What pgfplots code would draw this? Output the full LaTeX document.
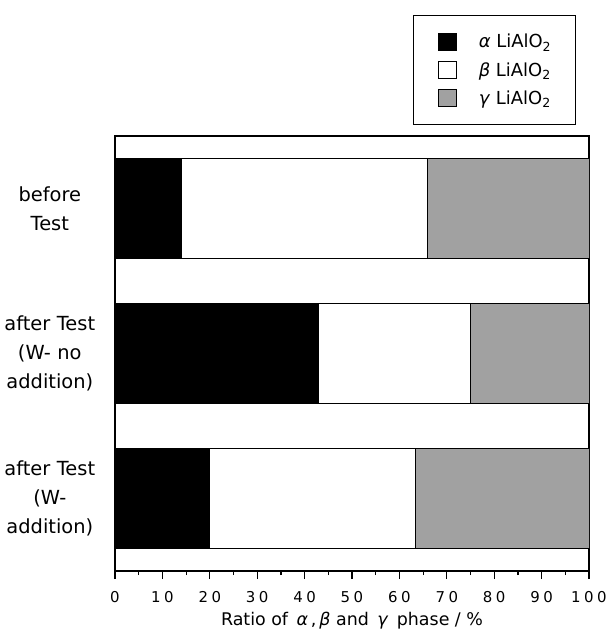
\documentclass[border=0pt]{standalone}
\usepackage{pgfplots}
\pgfplotsset{compat=1.18}
\usepackage{fontspec}
\setmainfont{DejaVu Sans}
\definecolor{halftone}{gray}{0.63}
\newcommand{\ks}{\kern3.5bp}
\begin{document}
\begin{tikzpicture}
\useasboundingbox (0,0) rectangle (609bp,640bp);
\begin{axis}[
  at={(115bp,69bp)}, anchor=south west,
  scale only axis, width=474bp, height=435bp,
  xbar stacked, bar width=0.69,
  xmin=0, xmax=100, ymin=-0.5, ymax=2.5, y dir=reverse,
  xtick={0,10,...,100},
  xticklabels={0,1\ks0,2\ks0,3\ks0,4\ks0,5\ks0,6\ks0,7\ks0,8\ks0,9\ks0,1\ks0\ks0},
  minor xtick={5,15,...,95},
  xticklabel style={font=\fontsize{15}{18}\selectfont, yshift=-9bp},
  ytick=\empty,
  minor ytick={0.5,1.5},
  extra y ticks={0,1,2},
  extra y tick labels={before\\Test, after Test\\(W- no\\addition), after Test\\(W-\\addition)},
  extra y tick style={major tick length=0pt,
    yticklabel style={text width=104bp, align=center, inner sep=0pt, xshift=-13bp,
      font=\fontsize{19.5}{29.5}\selectfont}},
  tick align=outside, xtick pos=bottom, ytick pos=left,
  major tick length=8bp, minor tick length=4bp,
  tick style={line width=1.2bp, black},
  axis line style={line width=1.3bp},
  /pgf/number format/assume math mode=true,
  xlabel={Ratio of \,\textit{α}\,,\,\textit{β} and \,\textit{γ}\, phase / \%},
  xlabel style={font=\fontsize{17.5}{20}\selectfont, yshift=-2bp},
  legend style={at={(axis description cs:0.6287,1.0253)}, anchor=south west,
    draw=black, line width=1.3bp, inner xsep=24bp, inner ysep=17bp,
    font=\fontsize{18}{21}\selectfont, row sep=10bp,
    nodes={inner sep=0pt},
    /tikz/every odd column/.append style={column sep=22bp}},
  legend cell align=left,
  legend image code/.code={\draw[#1, line width=1.2bp] (0bp,-8.5bp) rectangle (18bp,8.5bp);},
]
\addplot[fill=black, draw=black, line width=1bp] coordinates {(14,0) (43,1) (20,2)};
\addplot[fill=white, draw=black, line width=1bp] coordinates {(52,0) (32,1) (43.5,2)};
\addplot[fill=halftone, draw=black, line width=1bp] coordinates {(34,0) (25,1) (36.5,2)};
\legend{\textit{α} LiAlO\textsubscript{2},
        \textit{β} LiAlO\textsubscript{2},
        \textit{γ} LiAlO\textsubscript{2}}
\end{axis}
\end{tikzpicture}
\end{document}
